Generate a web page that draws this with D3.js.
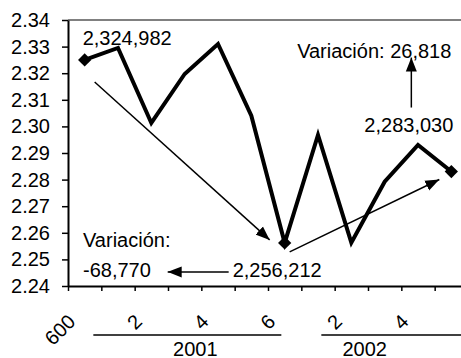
<!DOCTYPE html>
<html>
<head>
<meta charset="utf-8">
<script src="https://cdn.jsdelivr.net/npm/d3@7"></script>
<style>
  html, body { margin: 0; padding: 0; background: #fff; }
  svg { display: block; }
  text { font-family: "Liberation Sans", Arial, sans-serif; fill: #000; }
</style>
</head>
<body>
<svg id="chart" width="461" height="358"></svg>
<script>
// ---- data ----
const categories = ["600", "1", "2", "3", "4", "5", "6", "1", "2", "3", "4", "5"];
const tickLabelShown = ["600", "", "2", "", "4", "", "6", "", "2", "", "4", ""];
const values = [2.324982, 2.3295, 2.3013, 2.3197, 2.3310, 2.3040, 2.256212, 2.2968, 2.2563, 2.2792, 2.2930, 2.283030];
const groups = ["2001", "2002"];
const groupStart = [1, 7];
const groupEnd = [6, 11];
const yTicks = [2.24, 2.25, 2.26, 2.27, 2.28, 2.29, 2.30, 2.31, 2.32, 2.33, 2.34];
const markedPoints = [0, 6, 11];

// ---- layout ----
const mLeft = 68, mRight = 468, mTop = 20, mBottom = 286;
const FS = 20;

const svg = d3.select("#chart");

const x = d3.scaleBand().domain(d3.range(categories.length)).range([mLeft, mRight]).padding(0);
const xb = d3.scaleLinear().domain([0, categories.length]).range([mLeft, mRight]);
const y = d3.scaleLinear().domain([2.24, 2.34]).range([mBottom, mTop]);
const cx = i => x(i) + x.bandwidth() / 2;

// markers
const defs = svg.append("defs");
defs.append("marker")
  .attr("id", "arrow")
  .attr("markerUnits", "userSpaceOnUse")
  .attr("viewBox", "0 -6 14 12")
  .attr("refX", 14).attr("refY", 0)
  .attr("markerWidth", 14).attr("markerHeight", 12)
  .attr("orient", "auto")
  .append("path").attr("d", "M0,-5.5L14,0L0,5.5Z").attr("fill", "#000");

// top gray border
svg.append("line")
  .attr("x1", mLeft).attr("x2", mRight)
  .attr("y1", mTop).attr("y2", mTop)
  .attr("stroke", "#808080").attr("stroke-width", 2);

// y axis
const yAxis = svg.append("g")
  .attr("transform", `translate(${mLeft},0)`)
  .call(d3.axisLeft(y).tickValues(yTicks).tickFormat(d3.format(".2f")).tickSize(6).tickSizeOuter(0).tickPadding(12));
yAxis.select(".domain").attr("stroke", "#000").attr("stroke-width", 2);
yAxis.selectAll(".tick line").attr("stroke", "#000").attr("stroke-width", 1.5);
yAxis.selectAll(".tick text").style("font-size", FS + "px").style("font-family", '"Liberation Sans", Arial, sans-serif').attr("fill", "#000");

// x axis (ticks at category boundaries)
const xAxis = svg.append("g")
  .attr("transform", `translate(0,${mBottom})`)
  .call(d3.axisBottom(xb).tickValues(d3.range(categories.length + 1)).tickFormat("").tickSize(5).tickSizeOuter(0));
xAxis.select(".domain").attr("stroke", "#000").attr("stroke-width", 2);
xAxis.selectAll(".tick line").attr("stroke", "#000").attr("stroke-width", 1.5);

// rotated category labels
const catLabels = categories.map((c, i) => ({ label: tickLabelShown[i], i })).filter(d => d.label !== "");
svg.append("g").selectAll("text")
  .data(catLabels)
  .join("text")
  .attr("transform", d => `translate(${cx(d.i) - 13},${mBottom + 32}) rotate(-45)`)
  .attr("text-anchor", "end")
  .attr("dy", "0.35em")
  .style("font-size", FS + "px")
  .text(d => d.label);

// group lines and labels
const gOff = [[-8, -20], [20, 0]];
const gTextOff = [-6, -20];
groups.forEach((g, k) => {
  const x0 = x(groupStart[k]) + gOff[k][0];
  const x1 = x(groupEnd[k]) + x.bandwidth() + gOff[k][1];
  svg.append("line")
    .attr("x1", x0).attr("x2", x1)
    .attr("y1", mBottom + 49).attr("y2", mBottom + 49)
    .attr("stroke", "#000").attr("stroke-width", 1.5);
  svg.append("text")
    .attr("x", (x(groupStart[k]) + x(groupEnd[k]) + x.bandwidth()) / 2 + gTextOff[k])
    .attr("y", mBottom + 70)
    .attr("text-anchor", "middle")
    .style("font-size", FS + "px")
    .text(g);
});

// main line
svg.append("path")
  .datum(values)
  .attr("fill", "none")
  .attr("stroke", "#000")
  .attr("stroke-width", 4)
  .attr("stroke-linejoin", "miter")
  .attr("d", d3.line().x((d, i) => cx(i)).y(d => y(d)));

// diamond markers
svg.append("g").selectAll("path")
  .data(markedPoints)
  .join("path")
  .attr("transform", i => `translate(${cx(i)},${y(values[i])}) rotate(45)`)
  .attr("d", d3.symbol().type(d3.symbolSquare).size(88))
  .attr("fill", "#000");

// annotations
const fmt = v => d3.format(",")(v).replace("\u2212", "-");
const asInt = v => Math.round(v * 1e6);
const pA = [cx(0), y(values[0])];
const pB = [cx(6), y(values[6])];
const pC = [cx(11), y(values[11])];
const var1 = asInt(values[6]) - asInt(values[0]);
const var2 = asInt(values[11]) - asInt(values[6]);

function arrow(x1, y1, x2, y2) {
  svg.append("line")
    .attr("x1", x1).attr("y1", y1).attr("x2", x2).attr("y2", y2)
    .attr("stroke", "#000").attr("stroke-width", 1.5)
    .attr("marker-end", "url(#arrow)");
}
function label(t, tx, ty, anchor) {
  svg.append("text").attr("x", tx).attr("y", ty)
    .attr("text-anchor", anchor || "start")
    .style("font-size", FS + "px").text(t);
}

arrow(pA[0] + 10, pA[1] + 22, pB[0] - 15, pB[1] - 3);
arrow(pB[0] + 5, pB[1] + 9, pC[0] - 12, pC[1] + 8);
arrow(pC[0] - 40, pC[1] - 64, pC[0] - 40, pC[1] - 114);
arrow(pB[0] - 56, pB[1] + 29, pB[0] - 117, pB[1] + 29);

label(fmt(asInt(values[0])), pA[0] - 2, pA[1] - 15);
label(fmt(asInt(values[6])), pB[0] - 52, pB[1] + 34);
label(fmt(asInt(values[11])), pC[0] + 2, pC[1] - 40, "end");
label("Variación: " + fmt(var2), pC[0] + 0, pC[1] - 114, "end");
label("Variación:", mLeft + 15, pB[1] + 4);
label(fmt(var1), mLeft + 15, pB[1] + 34);
</script>
</body>
</html>
